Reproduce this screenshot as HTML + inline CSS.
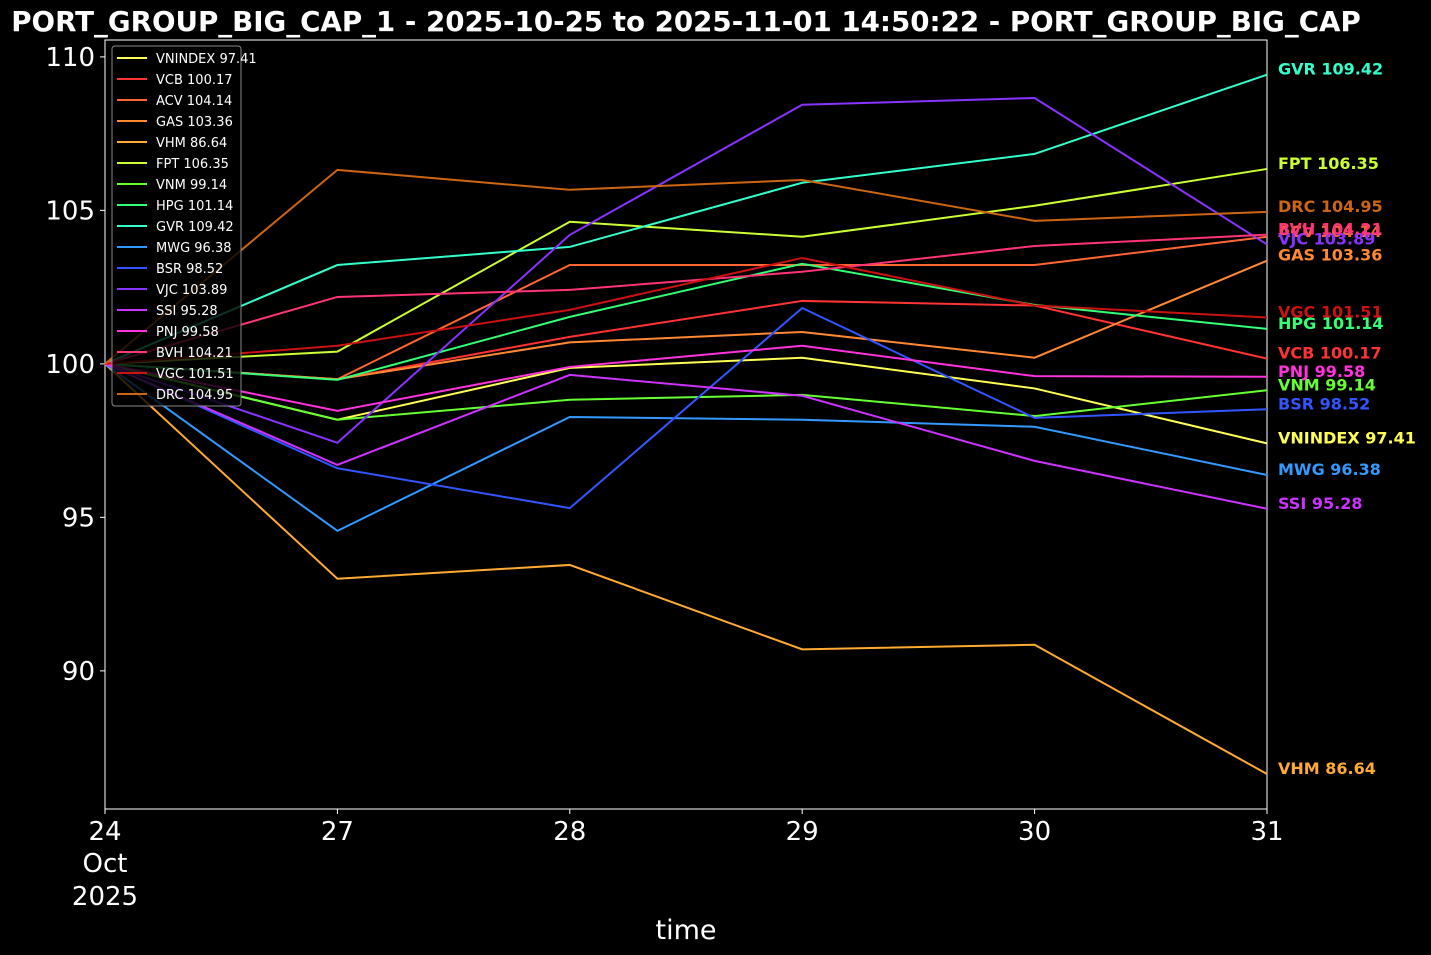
<!DOCTYPE html>
<html><head><meta charset="utf-8"><style>
body{margin:0;background:#000;}
svg{display:block;font-family:"DejaVu Sans","Liberation Sans",sans-serif;}
</style></head><body>
<svg id="chart" width="1431" height="955">
<rect width="1431" height="955" fill="#000"/>
<text x="686" y="31" fill="#fff" font-size="27.7" font-weight="bold" text-anchor="middle">PORT_GROUP_BIG_CAP_1 - 2025-10-25 to 2025-11-01 14:50:22 - PORT_GROUP_BIG_CAP</text>
<rect x="105" y="40" width="1162" height="769" fill="none" stroke="#fff" stroke-width="1"/>
<g id="axes"></g><g id="lines"></g><g id="labels"></g><g id="legend"></g>
<text x="686" y="939" fill="#fff" font-size="27" text-anchor="middle">time</text>
</svg>
<script>
const categories = ["24", "27", "28", "29", "30", "31"];
const yTicks = [90, 95, 100, 105, 110];
const names = ["VNINDEX","VCB","ACV","GAS","VHM","FPT","VNM","HPG","GVR","MWG","BSR","VJC","SSI","PNJ","BVH","VGC","DRC"];
const colors = ["#ffff55","#ff3333","#ff6633","#ff8833","#ffaa33","#ccff33","#66ff33","#33ff77","#33ffcc","#3399ff","#3355ff","#8833ff","#cc33ff","#ff33dd","#ff3377","#cc1111","#cc6611"];
const sVNINDEX = [100, 98.18, 99.87, 100.2, 99.2, 97.41];
const sVCB = [100, 99.5, 100.88, 102.05, 101.9, 100.17];
const sACV = [100, 99.5, 103.22, 103.22, 103.22, 104.14];
const sGAS = [100, 99.5, 100.7, 101.04, 100.2, 103.36];
const sVHM = [100, 93.0, 93.45, 90.7, 90.85, 86.64];
const sFPT = [100, 100.4, 104.63, 104.14, 105.15, 106.35];
const sVNM = [100, 98.18, 98.83, 98.99, 98.3, 99.14];
const sHPG = [100, 99.48, 101.53, 103.26, 101.92, 101.14];
const sGVR = [100, 103.22, 103.81, 105.9, 106.84, 109.42];
const sMWG = [100, 94.56, 98.27, 98.18, 97.95, 96.38];
const sBSR = [100, 96.6, 95.3, 101.82, 98.24, 98.52];
const sVJC = [100, 97.43, 104.2, 108.44, 108.66, 103.89];
const sSSI = [100, 96.71, 99.64, 98.96, 96.84, 95.28];
const sPNJ = [100, 98.47, 99.9, 100.59, 99.6, 99.58];
const sBVH = [100, 102.18, 102.41, 103.0, 103.84, 104.21];
const sVGC = [100, 100.59, 101.76, 103.45, 101.9, 101.51];
const sDRC = [100, 106.32, 105.67, 105.99, 104.66, 104.95];
const series = [sVNINDEX,sVCB,sACV,sGAS,sVHM,sFPT,sVNM,sHPG,sGVR,sMWG,sBSR,sVJC,sSSI,sPNJ,sBVH,sVGC,sDRC];

const NS="http://www.w3.org/2000/svg";
const X0=105,X1=1267,YBOT=809,YTOP=40,VMIN=85.5,VMAX=110.55;
const xs=i=>X0+(X1-X0)*i/(categories.length-1);
const ys=v=>YBOT-(v-VMIN)/(VMAX-VMIN)*(YBOT-YTOP);
function mk(tag,attrs,parent,text){const e=document.createElementNS(NS,tag);for(const k in attrs)e.setAttribute(k,attrs[k]);if(text!==undefined)e.textContent=text;parent.appendChild(e);return e;}
const axes=document.getElementById('axes');
yTicks.forEach(t=>{const y=ys(t);
 const l=mk('line',{x1:X0-5,x2:X0,y1:y,y2:y,stroke:'#fff'},axes);
 
 
 const tx=mk('text',{x:X0-10,y:y+9,fill:'#fff','font-size':26,'text-anchor':'end'},axes,String(t));
 
 
});
categories.forEach((c,i)=>{const x=xs(i);
 const l=mk('line',{x1:x,x2:x,y1:YBOT,y2:YBOT+5,stroke:'#fff'},axes);
 
 
 const tx=mk('text',{x:x,y:840,fill:'#fff','font-size':26,'text-anchor':'middle'},axes,c);
 
 
 if(i===0){
  const a=mk('text',{x:x,y:872,fill:'#fff','font-size':26,'text-anchor':'middle'},axes,'Oct');
  
  
  const b=mk('text',{x:x,y:905,fill:'#fff','font-size':26,'text-anchor':'middle'},axes,'2025');
  
  
 }
});
const lines=document.getElementById('lines'),labels=document.getElementById('labels'),legend=document.getElementById('legend');
series.forEach((s,k)=>{
 const pts=s.map((v,i)=>xs(i)+','+ys(v)).join(' ');
 const p=mk('polyline',{points:pts,fill:'none',stroke:colors[k],'stroke-width':2},lines);
 
 
 const last=s[s.length-1];
 const t=mk('text',{x:1278,y:ys(last),fill:colors[k],'font-size':16,'font-weight':'bold'},labels,names[k]+' '+last.toFixed(2));
 
 
});
const box=mk('rect',{x:112,y:46,width:129,height:360,rx:3,fill:'#000',stroke:'#888','stroke-width':1,'fill-opacity':0.8},legend);


series.forEach((s,k)=>{const y=58+k*21;
 const l=mk('line',{x1:117,x2:147,y1:y,y2:y,stroke:colors[k],'stroke-width':2},legend);
 
 
 const t=mk('text',{x:156,y:y+5,fill:'#fff','font-size':13},legend,names[k]+' '+s[s.length-1].toFixed(2));
 
 
});
</script>
</body></html>
